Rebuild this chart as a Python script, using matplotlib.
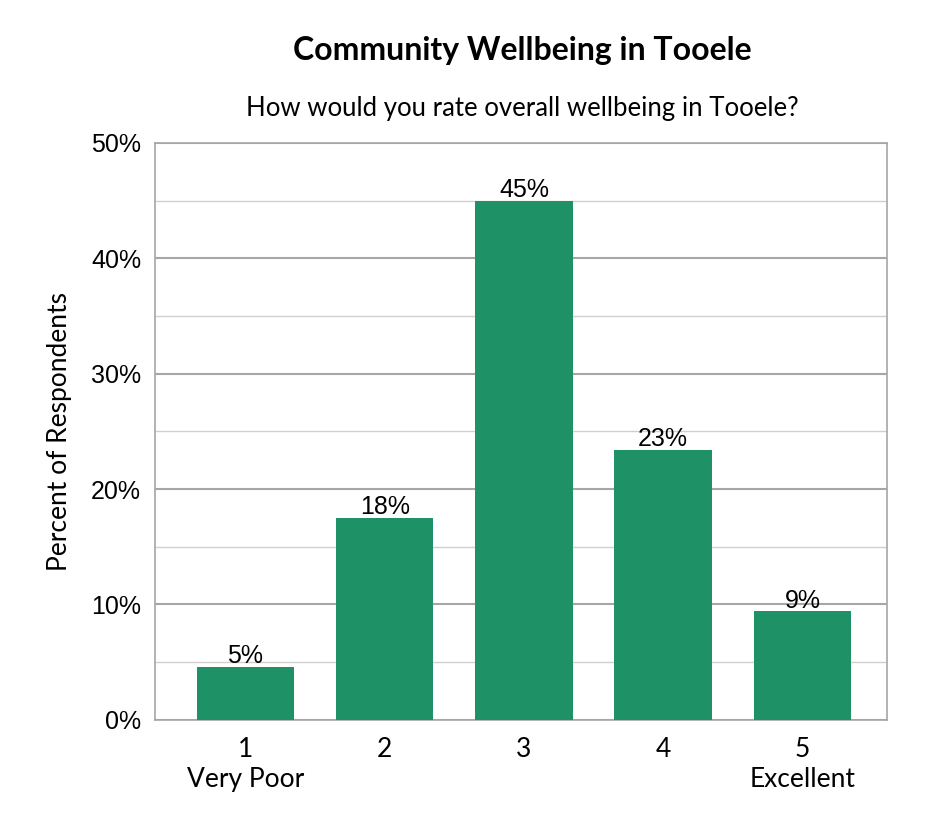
import numpy as np
import matplotlib
matplotlib.use("Agg")
import matplotlib.pyplot as plt

categories = ["1\nVery Poor", "2", "3", "4", "5\nExcellent"]
values = [4.6, 17.5, 45.0, 23.4, 9.4]
labels = ["5%", "18%", "45%", "23%", "9%"]

plt.rcParams['font.family'] = ['Lato', 'DejaVu Sans']

fig = plt.figure(figsize=(9.45, 8.4), dpi=100)
ax = fig.add_axes([0.164, 0.143, 0.775, 0.687])

x = np.arange(len(values))
ax.bar(x, values, width=0.70, color="#1f9166", zorder=3)
for xi, v, lab in zip(x, values, labels):
    ax.text(xi, v - 0.1, lab, ha="center", va="bottom", fontsize=18,
            family="Liberation Sans", zorder=4)

ax.set_xlim(-0.65, 4.61)
ax.set_ylim(0, 50)
ax.set_yticks(np.arange(0, 51, 10))
ax.set_yticklabels([f"{t}%" for t in range(0, 51, 10)], fontsize=18, family="Liberation Sans")
ax.set_yticks(np.arange(5, 50, 10), minor=True)
ax.grid(axis="y", which="major", color="#a6a6a6", linewidth=1.5, zorder=0)
ax.grid(axis="y", which="minor", color="#d0d0d0", linewidth=1, zorder=0)
ax.tick_params(axis="y", which="both", length=0, pad=10)
ax.set_xticks(x)
ax.set_xticklabels(categories, fontsize=19, linespacing=1.25)
ax.tick_params(axis="x", length=0, pad=12)
for s in ax.spines.values():
    s.set_color("#a6a6a6")
    s.set_linewidth(1.2)

ax.set_ylabel("Percent of Respondents", fontsize=19, labelpad=14)
fig.text(0.553, 0.928, "Community Wellbeing in Tooele", ha="center", fontsize=23, fontweight="bold")
fig.text(0.553, 0.862, "How would you rate overall wellbeing in Tooele?", ha="center", fontsize=18.5)

fig.savefig("out.png", dpi=100)
